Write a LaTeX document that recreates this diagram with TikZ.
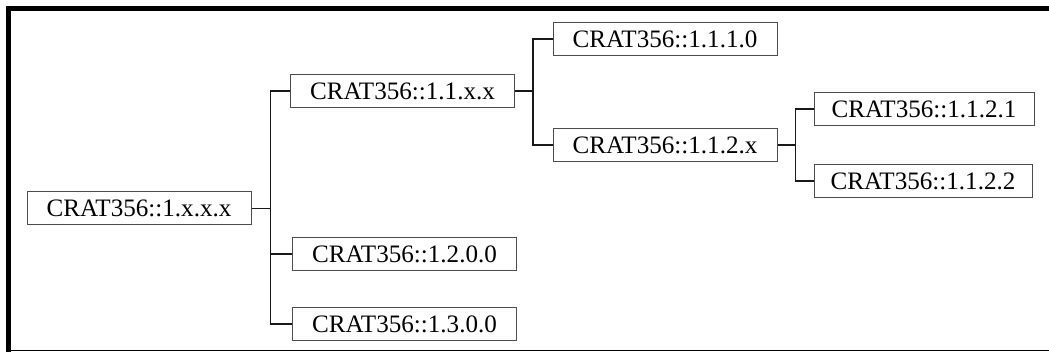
\documentclass[tikz,border=0pt]{standalone}
\usepackage{fontspec}
\setmainfont{Liberation Serif}
\begin{document}
\begin{tikzpicture}[x=1pt,y=-1pt,
  entry/.style={draw=black!70,line width=1pt,rectangle,minimum width=224pt,minimum height=33pt,
    inner sep=0pt,font=\fontsize{25.1}{28}\selectfont,anchor=center},
  link/.style={draw=black!90,line width=1.4pt}]
  \useasboundingbox (0,0) rectangle (1049,352);
  % frame
  \fill[black] (6,6) rectangle (11,352);
  \fill[black] (6,6) rectangle (1049,11);
  \draw[line width=1.5pt] (6,350.5) -- (1049,350.5);

  % nodes
  \node[entry] (root)  at (139,208.5) {CRAT356::1.x.x.x};
  \node[entry] (n11)   at (402.5,91)  {CRAT356::1.1.x.x};
  \node[entry] (n12)   at (404.5,254) {CRAT356::1.2.0.0};
  \node[entry] (n13)   at (404.5,324) {CRAT356::1.3.0.0};
  \node[entry] (n111)  at (665,39)    {CRAT356::1.1.1.0};
  \node[entry] (n112)  at (665,145)   {CRAT356::1.1.2.x};
  \node[entry,minimum width=220pt] (n1121) at (924,109) {CRAT356::1.1.2.1};
  \node[entry,minimum width=218pt] (n1122) at (923,181) {CRAT356::1.1.2.2};

  % connectors
  \foreach \c in {n11,n12,n13}
    \draw[link] (root.east) -- ([xshift=19pt]root.east) |- (\c.west);
  \foreach \c in {n111,n112}
    \draw[link] (n11.east) -- ([xshift=18pt]n11.east) |- (\c.west);
  \foreach \c in {n1121,n1122}
    \draw[link] (n112.east) -- ([xshift=18pt]n112.east) |- (\c.west);
\end{tikzpicture}
\end{document}
